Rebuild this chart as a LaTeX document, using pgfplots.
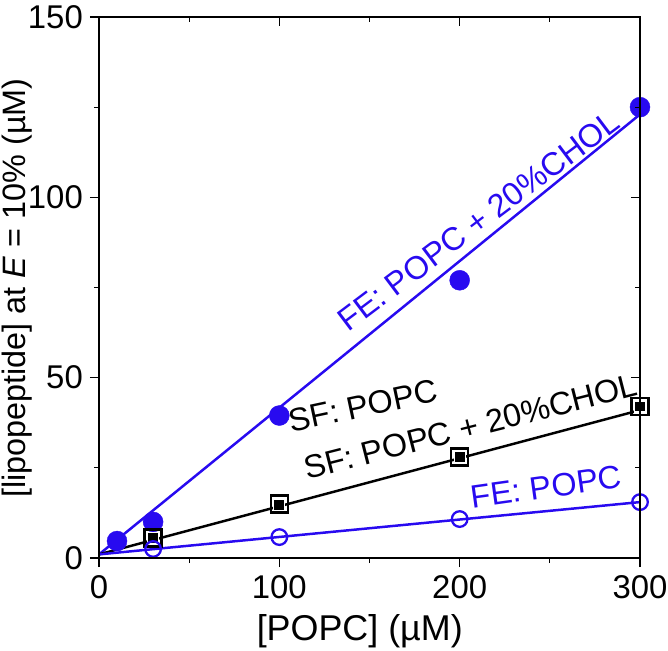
\documentclass[border=0pt]{standalone}
\usepackage{fontspec}
\setmainfont{Liberation Sans}
\usepackage{pgfplots}
\pgfplotsset{compat=1.18}
\definecolor{fblue}{RGB}{40,10,240}
\newcommand{\bigf}{\fontsize{32.5}{38}\selectfont}
\newcommand{\tickf}{\fontsize{33}{39}\selectfont}
\newcommand{\labf}{\fontsize{36}{42}\selectfont}
\newcommand{\ylabf}{\fontsize{32.5}{38}\selectfont}
\begin{document}
\begin{tikzpicture}[x=1bp,y=1bp]
\path[use as bounding box] (-99,-93) rectangle (569,558);
\begin{axis}[
  at={(0,0)}, anchor=south west,
  scale only axis, width=541bp, height=541bp,
  xmin=0, xmax=300, ymin=0, ymax=150,
  xtick={0,100,200,300}, minor xtick={50,150,250},
  ytick={0,50,100,150}, minor ytick={25,75,125},
  xtick pos=lower, ytick pos=left,
  tick align=outside,
  major tick length=9bp, minor tick length=5bp,
  every tick/.style={black, line width=1.2pt},
  axis line style={line width=1.2pt},
  /pgf/number format/assume math mode=true,
  ticklabel style={font=\tickf},
  xticklabel style={inner sep=0pt, yshift=-8bp},
  yticklabel style={inner sep=0pt, xshift=-7bp},
  xlabel={[POPC] (µM)},
  ylabel={[lipopeptide] at \textit{E} = 10\% (µM)},
  xlabel style={font=\labf, at={(axis description cs:0.482,-0.135)}, anchor=center},
  ylabel style={font=\ylabf, at={(axis description cs:-0.151,0.499)}, anchor=center, rotate=0},
  clip=false,
]
% fitted lines
\addplot[fblue, line width=2.5pt] coordinates {(0,1) (300,123)};
\addplot[black, line width=2.5pt] coordinates {(0,1) (300,41)};
\addplot[fblue, line width=2.5pt] coordinates {(0,1) (300,15.5)};
% FE: POPC + 20%CHOL
\addplot[only marks, mark=*, mark size=10bp, fblue, mark options={fill=fblue, draw=fblue}] coordinates {
(10,4.7) (30,10) (100,39.5) (200,77) (300,125)};
% SF: POPC + 20%CHOL (open squares)
\addplot[only marks, mark=square, mark size=8.5bp, black, mark options={line width=2.4pt, fill=white}] coordinates {
(30,5.5) (100,15) (200,28) (300,42)};
% SF: POPC (filled squares)
\addplot[only marks, mark=square*, mark size=5.5bp, black, mark options={draw=white, line width=1.2pt, fill=black}] coordinates {
(30,5.5) (100,14.6) (200,28) (300,42)};
% FE: POPC (open circles)
\addplot[only marks, mark=o, mark size=7.8bp, fblue, mark options={line width=2.3pt, fill=none}] coordinates {
(30,2.5) (100,5.8) (200,10.8) (300,15.5)};
\node[fblue, font=\bigf, rotate=37, anchor=center] at (axis cs:210.5,93.5) {FE: POPC + 20\%CHOL};
\node[black, font=\bigf, rotate=12, anchor=center] at (axis cs:146.5,42.2) {SF: POPC};
\node[black, font=\bigf, rotate=14.3, anchor=center] at (axis cs:206,36.4) {SF: POPC + 20\%CHOL};
\node[fblue, font=\bigf, rotate=8, anchor=center] at (axis cs:248,19.7) {FE: POPC};
\end{axis}
\begin{axis}[
  at={(0,0)}, anchor=south west,
  scale only axis, width=541bp, height=541bp,
  xmin=0, xmax=300, ymin=0, ymax=150,
  xtick={0,100,200,300}, minor xtick={50,150,250},
  ytick={0,50,100,150}, minor ytick={25,75,125},
  xtick pos=upper, ytick pos=right,
  tick align=inside,
  major tick length=9bp, minor tick length=5bp,
  every tick/.style={black, line width=1.2pt},
  axis line style={line width=1.2pt},
  xticklabels={}, yticklabels={},
]
\end{axis}
\end{tikzpicture}
\end{document}
